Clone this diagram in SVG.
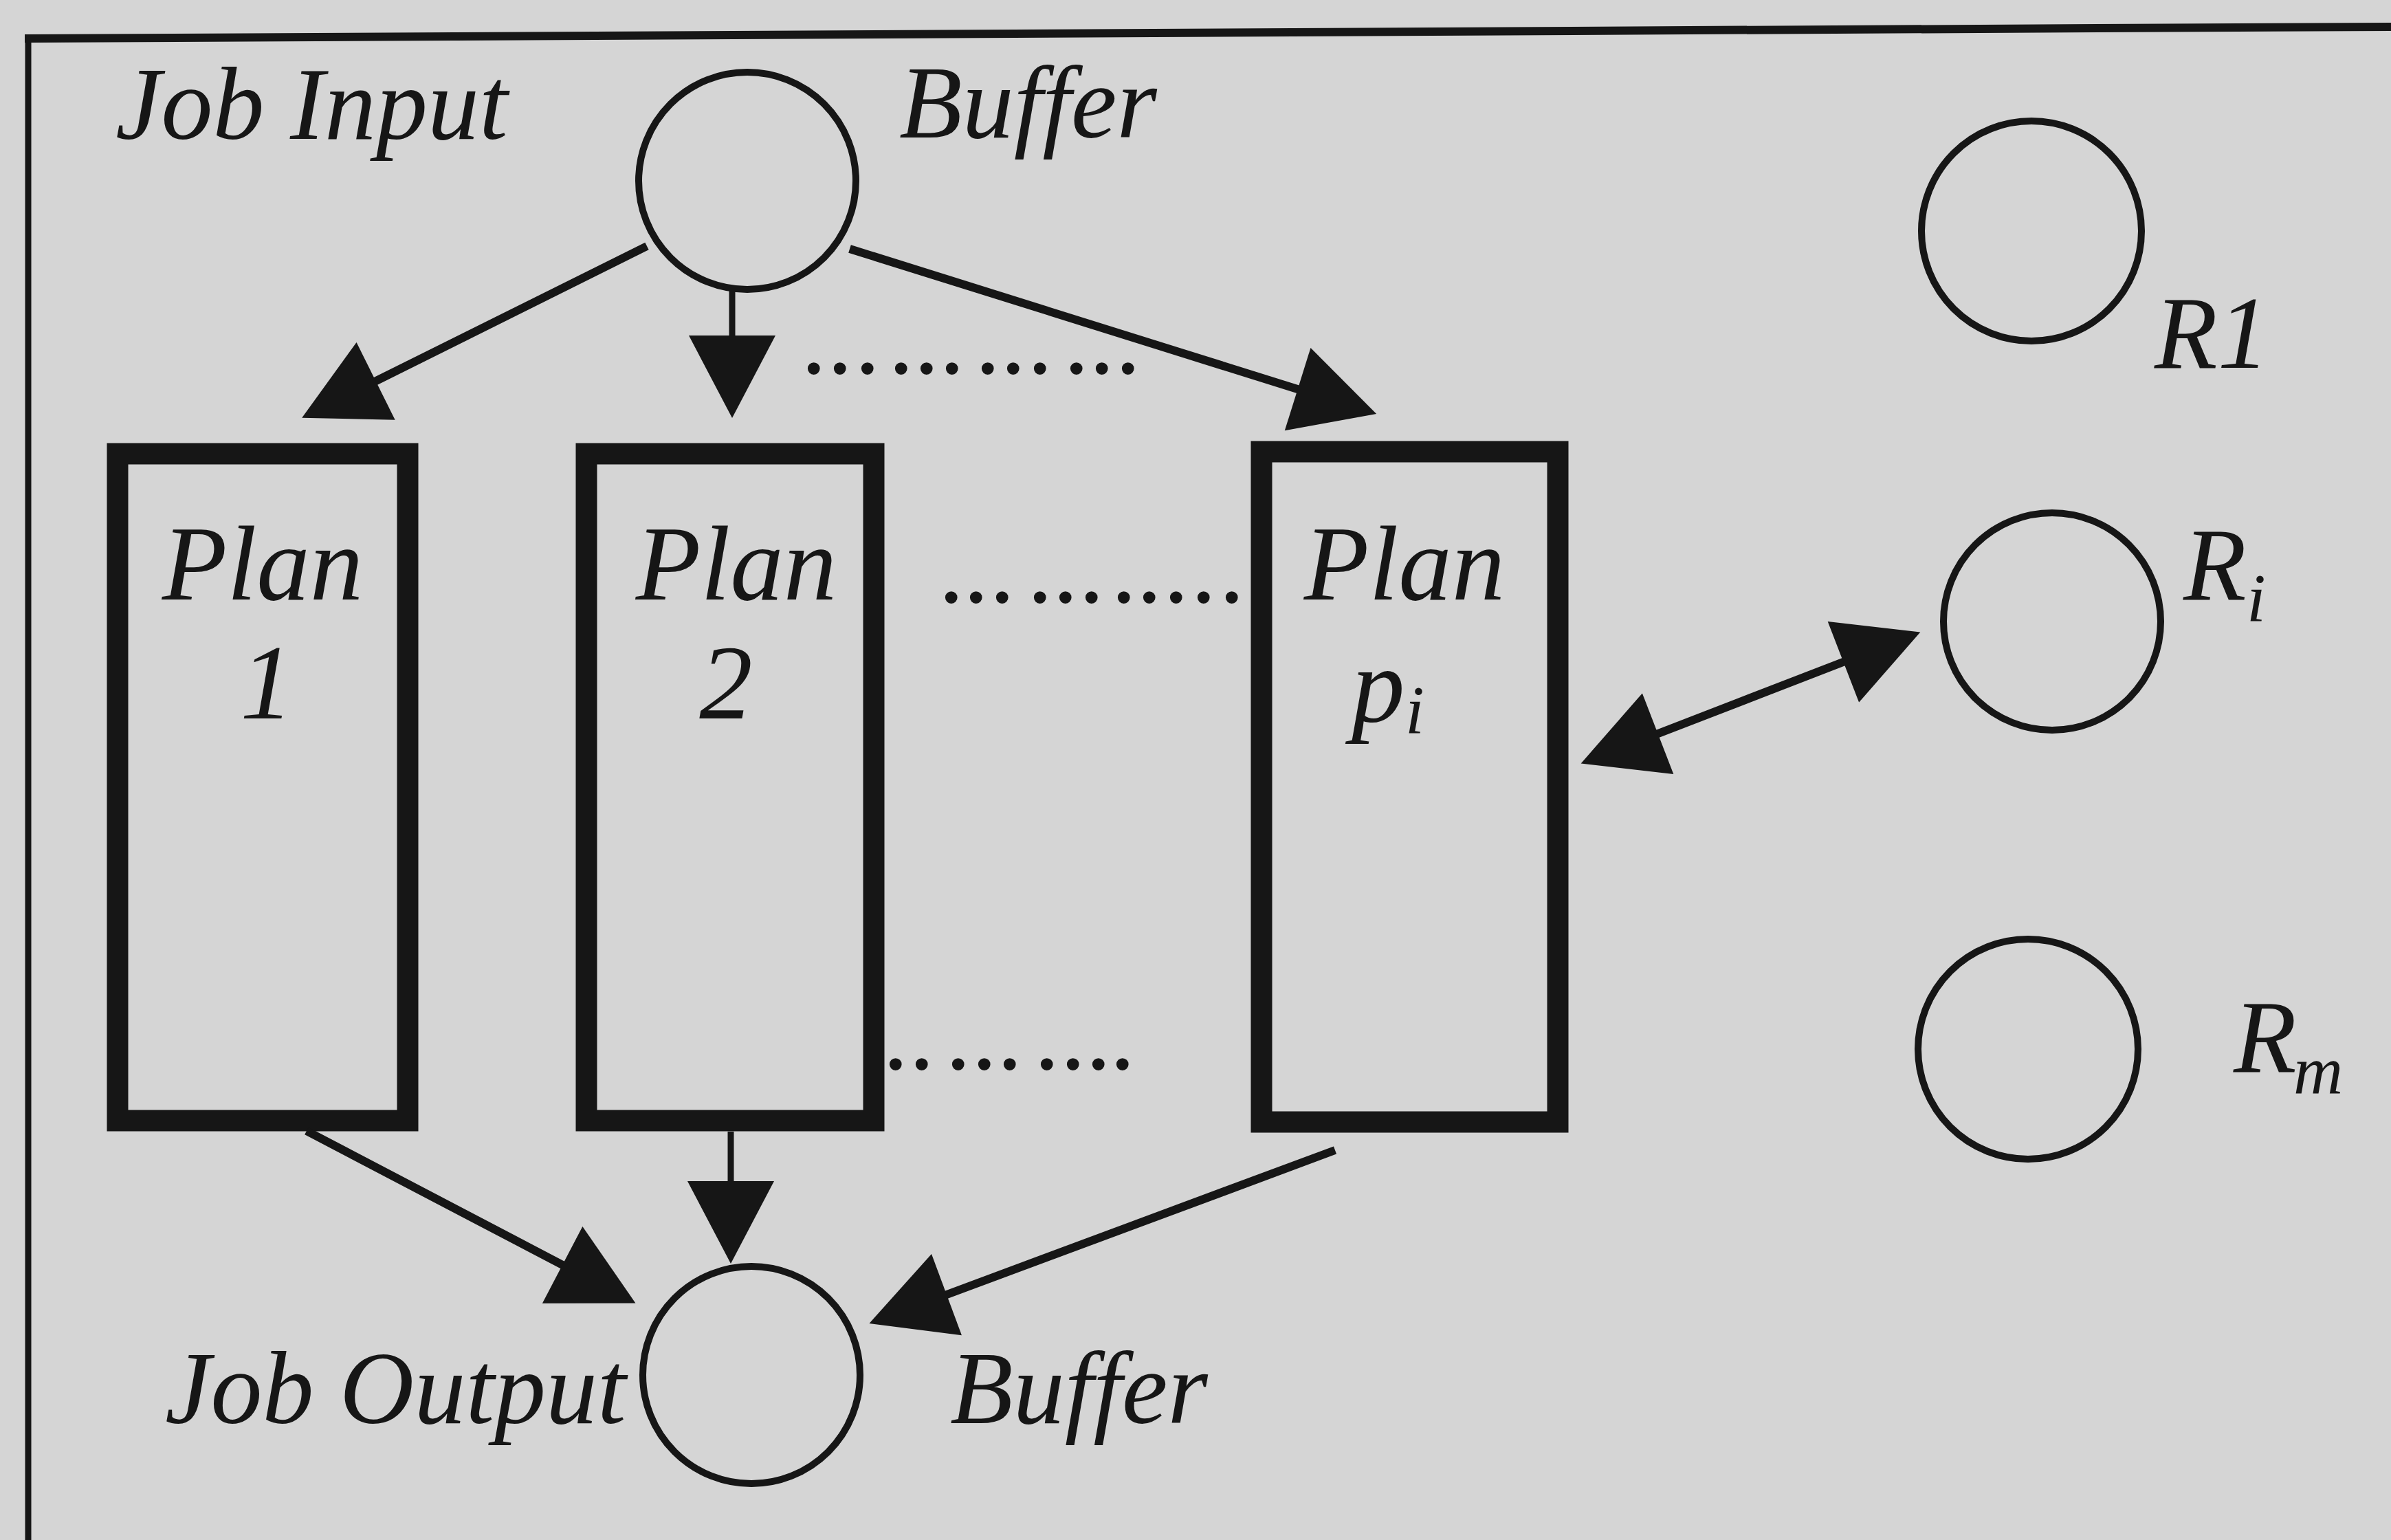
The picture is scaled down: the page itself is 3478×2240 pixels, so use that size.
<svg xmlns="http://www.w3.org/2000/svg" width="3478" height="2240" viewBox="0 0 3478 2240">
  <style>
    .bg { fill: #d5d5d5; }
    .frame { stroke: #161616; fill: none; }
    .buf { fill: none; stroke: #161616; stroke-width: 10; }
    .plan { fill: none; stroke: #161616; stroke-width: 31; }
    .lbl { font-family: "Liberation Serif", "Times New Roman", serif; font-style: italic; fill: #161616; }
    .dots { font-family: "Liberation Serif", "Times New Roman", serif; font-size: 150px; fill: #161616; }
    .conn { stroke: #161616; stroke-width: 12; fill: none; }
    .conn.v { stroke-width: 9; }
  </style>
  <defs>
    <marker id="head" markerUnits="userSpaceOnUse" markerWidth="120" markerHeight="126" refX="80" refY="63" orient="auto-start-reverse" overflow="visible">
      <path d="M0,0 L120,63 L0,126 Z" fill="#161616"/>
    </marker>
  </defs>

  <rect class="bg" x="0" y="0" width="3478" height="2240"/>

  <!-- outer frame -->
  <g id="frame">
    <line class="frame" x1="36" y1="56" x2="3478" y2="39" stroke-width="12"/>
    <line class="frame" x1="41" y1="54" x2="41" y2="2240" stroke-width="9"/>
  </g>

  <!-- job input buffer -->
  <g id="input-buffer">
    <circle class="buf" cx="1087" cy="263" r="158"/>
    <text class="lbl" x="168" y="202" font-size="150">Job Input</text>
    <text class="lbl" x="1308" y="200" font-size="150">Buffer</text>
  </g>

  <!-- plans -->
  <g id="plan-1">
    <rect class="plan" x="171" y="660" width="422" height="970"/>
    <text class="lbl" x="382" y="872" font-size="155" text-anchor="middle">Plan</text>
    <text class="lbl" x="388" y="1045" font-size="155" text-anchor="middle">1</text>
  </g>
  <g id="plan-2">
    <rect class="plan" x="853" y="660" width="418" height="970"/>
    <text class="lbl" x="1071" y="872" font-size="155" text-anchor="middle">Plan</text>
    <text class="lbl" x="1056" y="1045" font-size="155" text-anchor="middle">2</text>
  </g>
  <g id="plan-pi">
    <rect class="plan" x="1835" y="657" width="431" height="975"/>
    <text class="lbl" x="2043" y="872" font-size="155" text-anchor="middle">Plan</text>
    <text class="lbl" font-size="155"><tspan x="1966" y="1049">p</tspan><tspan x="2044" y="1066" font-size="100">i</tspan></text>
  </g>

  <!-- job output buffer -->
  <g id="output-buffer">
    <circle class="buf" cx="1093" cy="2000" r="158"/>
    <text class="lbl" x="240" y="2070" font-size="150">Job Output</text>
    <text class="lbl" x="1382" y="2070" font-size="150">Buffer</text>
  </g>

  <!-- resources -->
  <g id="resource-r1">
    <circle class="buf" cx="2955" cy="336" r="160"/>
    <text class="lbl" x="3134" y="535" font-size="150">R1</text>
  </g>
  <g id="resource-ri">
    <circle class="buf" cx="2985" cy="904" r="158"/>
    <text class="lbl" font-size="150"><tspan x="3176" y="872">R</tspan><tspan x="3268" y="903" font-size="100">i</tspan></text>
  </g>
  <g id="resource-rm">
    <circle class="buf" cx="2950" cy="1526" r="160"/>
    <text class="lbl" font-size="150"><tspan x="3249" y="1559">R</tspan><tspan x="3336" y="1590" font-size="100">m</tspan></text>
  </g>

  <!-- ellipsis rows between the plans -->
  <g id="ellipses">
    <text class="dots" y="543" x="1165 1203 1243 1292 1329 1366 1418 1455 1494 1547 1584 1622">............</text>
    <text class="dots" y="876" x="1365 1401 1439 1494 1531 1569 1616 1653 1692 1732 1773">...........</text>
    <text class="dots" y="1555" x="1284 1322 1375 1413 1450 1504 1542 1579 1614">.........</text>
  </g>

  <!-- connectors -->
  <g id="connectors">
    <line class="conn" x1="941" y1="358" x2="475" y2="590" marker-end="url(#head)"/>
    <line class="conn v" x1="1065" y1="418" x2="1065" y2="568" marker-end="url(#head)"/>
    <line class="conn" x1="1236" y1="362" x2="1964" y2="590" marker-end="url(#head)"/>
    <line class="conn" x1="2337" y1="1096" x2="2756" y2="934" marker-start="url(#head)" marker-end="url(#head)"/>
    <line class="conn" x1="446" y1="1645" x2="889" y2="1877" marker-end="url(#head)"/>
    <line class="conn v" x1="1063" y1="1646" x2="1063" y2="1798" marker-end="url(#head)"/>
    <line class="conn" x1="1942" y1="1673" x2="1302" y2="1911" marker-end="url(#head)"/>
  </g>
</svg>
